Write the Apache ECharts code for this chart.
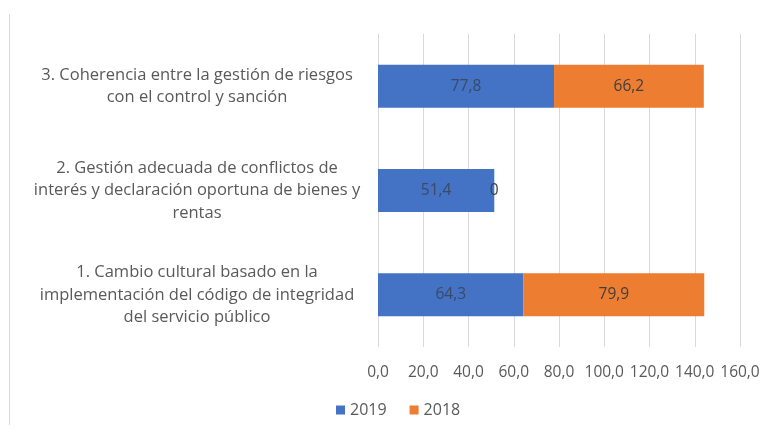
<!DOCTYPE html>
<html>
<head>
<meta charset="utf-8">
<script src="https://cdn.jsdelivr.net/npm/echarts@6/dist/echarts.min.js"></script>
<style>html,body{margin:0;padding:0;background:#fff}#c{width:776px;height:433px}</style>
</head>
<body>
<div id="c"></div>
<script>
var categories = [
  "1. Cambio cultural basado en la\nimplementación del código de integridad\ndel servicio público",
  "2. Gestión adecuada de conflictos de\ninterés y declaración oportuna de bienes y\nrentas",
  "3. Coherencia entre la gestión de riesgos\ncon el control y sanción"
];
var values2019 = [64.3, 51.4, 77.8];
var values2018 = [79.9, 0, 66.2];
var seriesNames = ["2019", "2018"];

var fmt = function (v) { return v.toFixed(1).replace('.', ','); };
var font = "'Open Sans', sans-serif";
var chart = echarts.init(document.getElementById('c'), null, {renderer: 'canvas'});
chart.setOption({
  animation: false,
  backgroundColor: '#ffffff',
  textStyle: {fontFamily: font},
  graphic: [{type: 'line', shape: {x1: 9.5, y1: 14, x2: 9.5, y2: 425}, style: {stroke: '#d9d9d9', lineWidth: 1}}],
  grid: {left: 378, right: 36, top: 34, bottom: 86, containLabel: false},
  legend: {
    bottom: 10, left: 331,
    itemWidth: 9, itemHeight: 9, itemGap: 23,
    icon: 'rect',
    textStyle: {color: '#595959', fontSize: 16, fontFamily: font},
    data: seriesNames
  },
  xAxis: {
    type: 'value', min: 0, max: 160, interval: 20,
    axisLine: {show: false}, axisTick: {show: false},
    splitLine: {lineStyle: {color: '#d9d9d9'}},
    axisLabel: {color: '#595959', fontSize: 15.5, margin: 18, formatter: function (v) { return fmt(v); }, fontFamily: font}
  },
  yAxis: {
    type: 'category', data: categories,
    axisLine: {show: false}, axisTick: {show: false},
    axisLabel: {color: '#595959', fontSize: 16.5, lineHeight: 22.5, align: 'center', margin: 181, fontFamily: font}
  },
  series: [
    {name: seriesNames[0], type: 'bar', stack: 's', data: values2019, barWidth: 43,
     itemStyle: {color: '#4472C4'},
     label: {show: true, position: 'inside', color: '#3a4a66', fontSize: 15.5, fontFamily: font, formatter: function (p) { return fmt(p.value); }}},
    {name: seriesNames[1], type: 'bar', stack: 's', data: values2018, barWidth: 43,
     itemStyle: {color: '#ED7D31'},
     label: {show: true, position: 'inside', color: '#404040', fontSize: 15.5, fontFamily: font, formatter: function (p) { return p.value === 0 ? '0' : fmt(p.value); }}}
  ]
});
</script>
</body>
</html>
